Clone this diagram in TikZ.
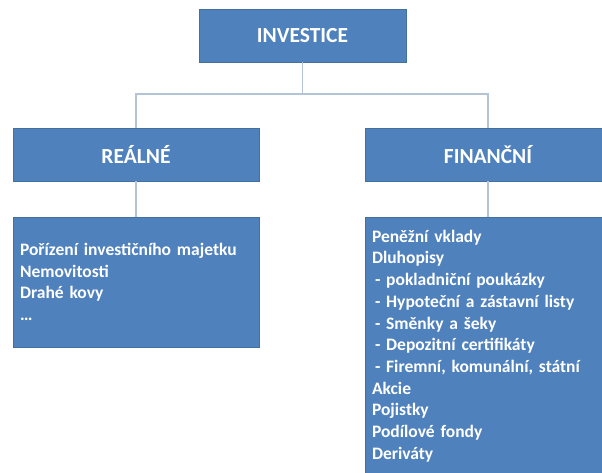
\documentclass[tikz,border=0pt]{standalone}
\usepackage{fontspec}
\setmainfont{Carlito}[BoldFont={Carlito Bold}, WordSpace=0.8]
\definecolor{boxfill}{HTML}{4F81BD}
\definecolor{boxline}{HTML}{41719C}
\definecolor{connc}{HTML}{B4C4D8}
\newcommand{\sub}{\hspace*{3pt}- }
\begin{document}
\begin{tikzpicture}[x=1pt,y=-1pt,
  box/.style={draw=boxline, line width=0.8pt, fill=boxfill, text=white,
    font=\bfseries\fontsize{21.5}{25}\selectfont, minimum height=53pt, inner sep=0pt},
  listbox/.style={draw=boxline, line width=0.8pt, fill=boxfill, text=white,
    font=\bfseries\fontsize{17.5}{21.7}\selectfont, align=left, text width=232pt,
    inner xsep=7pt, inner ysep=0pt, minimum width=246pt},
  conn/.style={draw=connc, line width=1.5pt}]
\useasboundingbox (0,0) rectangle (602,472);
\clip (0,0) rectangle (602,472);
\fill[white] (0,0) rectangle (602,472);
\node[box, minimum width=207pt] (inv) at (302.5,35.5) {INVESTICE};
\node[box, minimum width=246pt] (real) at (136,154.5) {REÁLNÉ};
\node[box, minimum width=246pt] (fin) at (488,154.5) {FINANČNÍ};
\node[listbox, minimum height=130pt] (rlist) at (136,282) {Pořízení investičního majetku\\Nemovitosti\\Drahé kovy\\…};
\node[listbox, minimum height=258pt] (flist) at (488,346) {Peněžní vklady\\Dluhopisy\\\sub pokladniční poukázky\\\sub Hypoteční a zástavní listy\\\sub Směnky a šeky\\\sub Depozitní certifikáty\\\sub Firemní, komunální, státní\\Akcie\\Pojistky\\Podílové fondy\\Deriváty};
\coordinate (hub) at (302.5,94);
\draw[conn] (inv.south) -- (hub);
\draw[conn] (hub) -| (real.north);
\draw[conn] (hub) -| (fin.north);
\draw[conn] (real.south) -- (rlist.north);
\draw[conn] (fin.south) -- (flist.north);
\end{tikzpicture}
\end{document}
